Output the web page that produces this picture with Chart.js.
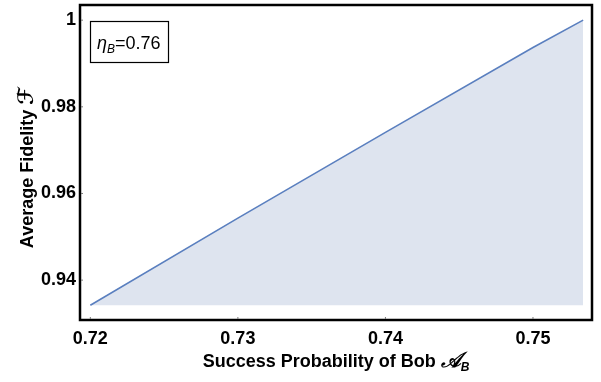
<!DOCTYPE html>
<html>
<head>
<meta charset="utf-8">
<script src="https://cdn.jsdelivr.net/npm/chart.js@4/dist/chart.umd.min.js"></script>
<style>
  html, body { margin: 0; padding: 0; background: #fff; }
  #wrap { width: 601px; height: 382px; position: relative; }
</style>
</head>
<body>
<div id="wrap"><canvas id="chart"></canvas></div>
<script>
// Data
const successProb = [0.72, 0.73, 0.74, 0.75, 0.7534];
const avgFidelity = [0.9342, 0.9543, 0.9741, 0.9937, 1.0];
const xTicks = [0.72, 0.73, 0.74, 0.75];
const yTicks = [0.94, 0.96, 0.98, 1];
const etaLabel = '0.76';

const TITLE_FONT = 'bold 18px "Liberation Sans", Arial, sans-serif';

// draw text pieces [text, font, dy] one after the other
function drawRuns(ctx, runs, x, y, align) {
    let total = 0;
    runs.forEach(r => { ctx.font = r[1]; total += ctx.measureText(r[0]).width; });
    let cx = align === 'center' ? x - total / 2 : x;
    ctx.textAlign = 'left';
    ctx.textBaseline = 'alphabetic';
    runs.forEach(r => {
        ctx.font = r[1];
        ctx.fillText(r[0], cx, y + (r[2] || 0));
        cx += ctx.measureText(r[0]).width;
    });
}

const framePlugin = {
    id: 'frame',
    afterDraw(chart) {
        const { ctx, chartArea: a } = chart;
        ctx.save();
        // frame round the plot
        ctx.strokeStyle = '#000';
        ctx.lineWidth = 2.5;
        ctx.strokeRect(a.left, a.top, a.right - a.left, a.bottom - a.top);

        // small tick marks
        ctx.strokeStyle = '#777';
        ctx.lineWidth = 1;
        const xs = chart.scales.x, ys = chart.scales.y;
        xTicks.forEach(v => {
            const px = xs.getPixelForValue(v);
            ctx.beginPath(); ctx.moveTo(px, a.bottom - 3); ctx.lineTo(px, a.bottom - 1); ctx.stroke();
        });
        yTicks.forEach(v => {
            const py = ys.getPixelForValue(v);
            ctx.beginPath(); ctx.moveTo(a.left + 1, py); ctx.lineTo(a.left + 3, py); ctx.stroke();
        });

        // axis titles
        ctx.fillStyle = '#000';
        drawRuns(ctx, [
            ['Success Probability of Bob ', TITLE_FONT],
            ['\uD835\uDC9C', 'bold italic 21px "DejaVu Sans", serif'],
            ['B', 'italic bold 12px "Liberation Sans", Arial', 4]
        ], (a.left + a.right) / 2, 367, 'center');

        ctx.save();
        ctx.translate(33, 168);
        ctx.rotate(-Math.PI / 2);
        drawRuns(ctx, [
            ['Average Fidelity ', TITLE_FONT],
            ['\u2131', 'bold italic 21px "DejaVu Sans", serif']
        ], 0, 0, 'center');
        ctx.restore();

        // eta label box
        ctx.strokeStyle = '#000';
        ctx.lineWidth = 1.2;
        ctx.strokeRect(90.5, 21.5, 78, 41);
        ctx.fillStyle = '#000';
        drawRuns(ctx, [
            ['\u03B7', 'italic 18px "Liberation Sans", Arial'],
            ['B', 'italic 12px "Liberation Sans", Arial', 4],
            ['=' + etaLabel, '18px "Liberation Sans", Arial']
        ], 97, 49, 'left');
        ctx.restore();
    }
};

new Chart(document.getElementById('chart'), {
    type: 'line',
    data: {
        datasets: [{
            data: successProb.map((x, i) => ({ x: x, y: avgFidelity[i] })),
            borderColor: '#5a7fbf',
            borderWidth: 1.6,
            backgroundColor: '#dee4ef',
            fill: { value: avgFidelity[0] },
            pointRadius: 0,
            tension: 0
        }]
    },
    options: {
        responsive: true,
        maintainAspectRatio: false,
        animation: false,
        layout: { padding: { top: 5, right: 9, left: 0, bottom: 0 } },
        plugins: { legend: { display: false }, tooltip: { enabled: false } },
        scales: {
            x: {
                type: 'linear',
                min: 0.7193,
                max: 0.7540,
                afterBuildTicks: s => { s.ticks = xTicks.map(v => ({ value: v })); },
                afterFit: s => { s.height = 62; s.paddingLeft = 0; s.paddingRight = 0; },
                grid: { display: false, drawTicks: false },
                border: { display: false },
                ticks: {
                    color: '#000',
                    font: { family: '"Liberation Sans", Arial', size: 18, weight: 'bold' },
                    padding: 8,
                    maxRotation: 0,
                    callback: v => v.toFixed(2)
                }
            },
            y: {
                min: 0.9308,
                max: 1.0035,
                afterBuildTicks: s => { s.ticks = yTicks.map(v => ({ value: v })); },
                afterFit: s => { s.width = 80; s.paddingTop = 0; s.paddingBottom = 0; },
                grid: { display: false, drawTicks: false },
                border: { display: false },
                ticks: {
                    color: '#000',
                    font: { family: '"Liberation Sans", Arial', size: 18, weight: 'bold' },
                    padding: 4,
                    callback: v => (v === 1 ? '1' : v.toFixed(2))
                }
            }
        }
    },
    plugins: [framePlugin]
});
</script>
</body>
</html>
